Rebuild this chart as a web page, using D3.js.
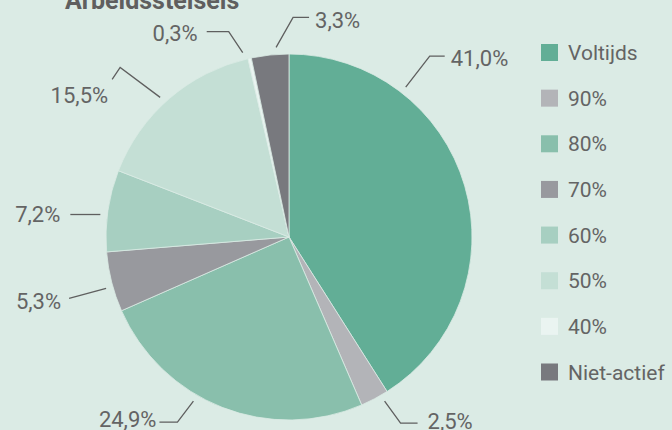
<!DOCTYPE html>
<html><head><meta charset="utf-8">
<script src="https://cdn.jsdelivr.net/npm/d3@7"></script>
<style>
html,body{margin:0;padding:0;background:#dbebe5;}
svg{display:block;}
text{font-family:Roboto,"Open Sans",sans-serif;}
</style></head>
<body>
<svg id="chart" width="672" height="430"></svg>
<script>
// ---- data ----
const categories = ["Voltijds", "90%", "80%", "70%", "60%", "50%", "40%", "Niet-actief"];
const values = [41.0, 2.5, 24.9, 5.3, 7.2, 15.5, 0.3, 3.3];
const valueLabels = ["41,0%", "2,5%", "24,9%", "5,3%", "7,2%", "15,5%", "0,3%", "3,3%"];
const colors = ["#62ae96", "#b3b4b8", "#89bfac", "#98999e", "#a7cfc1", "#c4dfd5", "#eaf4f1", "#78797e"];
const title = "Arbeidsstelsels";

// ---- label layout (annotation placement) ----
// angle (deg, clockwise from top) where the leader starts, then relative path steps, then text offset
const labelLayout = [
  {angle: 37.9,  steps: [[24, -31], [15, 0]],  text: [6, 2],  anchor: "start"},
  {angle: 149.8, steps: [[16, 22], [17, 0]],   text: [10, -2], anchor: "start"},
  {angle: 210.2, steps: [[-16, 21], [-18, 0]], text: [-3, -3], anchor: "end"},
  {angle: 254.3, steps: [[-37, 10]],           text: [-8, 3],  anchor: "end"},
  {angle: 276.8, steps: [[-30, 0]],            text: [-10, 0], anchor: "end"},
  {angle: 317.3, steps: [[-40, -30], [-8, 12]],text: [-4, 16], anchor: "end"},
  {angle: 345.9, steps: [[-14, -21], [-22, 0]],text: [-9, 2],  anchor: "end"},
  {angle: 356.1, steps: [[17, -30], [16, 0]],  text: [6, 3],   anchor: "start"}
];

const W = 672, H = 430;
const cx = 289, cy = 237, R = 183, leaderR = 190;
const textColor = "#646464";

const svg = d3.select("#chart");
svg.append("rect").attr("width", W).attr("height", H).attr("fill", "#dbebe5");

const rows = categories.map((c, i) => ({cat: c, value: values[i], label: valueLabels[i], color: colors[i], layout: labelLayout[i]}));

const pie = d3.pie().sort(null).value(d => d.value);
const arc = d3.arc().innerRadius(0).outerRadius(R);
const arcs = pie(rows);

const g = svg.append("g").attr("transform", `translate(${cx},${cy})`);
g.selectAll("path.slice").data(arcs).join("path")
  .attr("class", "slice")
  .attr("d", arc)
  .attr("fill", d => d.data.color)
  .attr("stroke", "#dbebe5")
  .attr("stroke-width", 0.8);

// leader lines + labels
arcs.forEach(a => {
  const L = a.data.layout;
  const p0 = d3.pointRadial(L.angle * Math.PI / 180, leaderR);
  const pts = [p0];
  let cur = p0;
  L.steps.forEach(s => { cur = [cur[0] + s[0], cur[1] + s[1]]; pts.push(cur); });
  g.append("path")
    .attr("d", d3.line()(pts))
    .attr("fill", "none")
    .attr("stroke", "#5f5f5f")
    .attr("stroke-width", 1.3);
  g.append("text")
    .attr("x", cur[0] + L.text[0])
    .attr("y", cur[1] + L.text[1])
    .attr("dy", "0.35em")
    .attr("text-anchor", L.anchor)
    .attr("font-size", 22)
    .attr("fill", textColor)
    .text(a.data.label);
});

// title (partly cut off at top)
svg.append("text")
  .attr("x", 65).attr("y", 9)
  .attr("font-size", 25).attr("font-weight", 700)
  .attr("fill", "#5f5f5f")
  .text(title);

// legend
const ly = d3.scalePoint().domain(categories).range([52.5, 372]);
const leg = svg.append("g");
const item = leg.selectAll("g").data(rows).join("g")
  .attr("transform", d => `translate(541,${ly(d.cat)})`);
item.append("rect").attr("x", 0).attr("y", -8.5).attr("width", 17).attr("height", 17)
  .attr("fill", d => d.color);
item.append("text").attr("x", 27).attr("y", 0).attr("dy", "0.36em")
  .attr("font-size", 21).attr("fill", textColor)
  .text(d => d.cat);
</script>
</body></html>
